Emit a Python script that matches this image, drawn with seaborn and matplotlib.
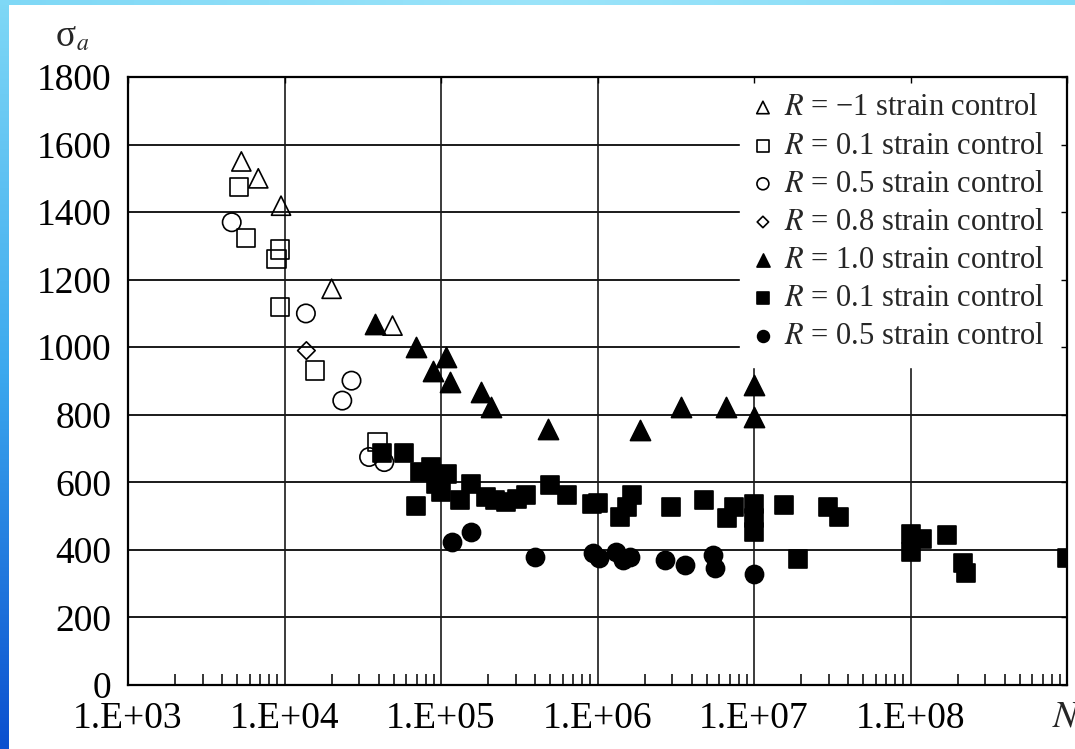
import numpy as np
import pandas as pd
import matplotlib
matplotlib.use("Agg")
import matplotlib.pyplot as plt
from matplotlib.colors import LinearSegmentedColormap
from matplotlib.ticker import FixedLocator, FixedFormatter, LogLocator, NullFormatter
import seaborn as sns

# ---------------- data ----------------
tri_open_N = [5.3e3, 6.8e3, 9.5e3, 2.0e4, 4.9e4]
tri_open_S = [1550, 1500, 1419, 1173, 1064]

sq_open_N = [5.1e3, 5.7e3, 9.4e3, 8.9e3, 9.4e3, 1.57e4, 3.93e4]
sq_open_S = [1475, 1324, 1289, 1262, 1120, 931, 719]

circ_open_N = [4.6e3, 1.37e4, 2.68e4, 2.34e4, 3.47e4, 4.34e4]
circ_open_S = [1370, 1100, 901, 842, 675, 660]

dia_open_N = [1.38e4]
dia_open_S = [990]

tri_fill_N = [3.8e4, 6.9e4, 8.9e4, 1.08e5, 1.14e5, 1.81e5, 2.1e5, 4.8e5,
              1.87e6, 3.4e6, 6.6e6, 1e7, 1e7]
tri_fill_S = [1069, 1000, 931, 970, 897, 867, 823, 759, 754, 823, 823, 887, 793]

sq_fill_N = [4.2e4, 5.8e4, 6.9e4, 7.3e4, 8.6e4, 9.3e4, 1.0e5, 1.1e5, 1.32e5,
             1.55e5, 1.95e5, 2.2e5, 2.6e5, 3.05e5, 3.5e5, 5.0e5, 6.4e5, 9.2e5,
             1.0e6, 1.39e6, 1.54e6, 1.67e6, 2.95e6, 4.8e6, 6.7e6, 7.5e6, 1e7,
             1e7, 1e7, 1.55e7, 1.9e7, 2.95e7, 3.5e7, 1e8, 1e8, 1.19e8, 1.7e8,
             2.17e8, 2.25e8, 1e9]
sq_fill_S = [688, 688, 529, 630, 645, 596, 571, 626, 547, 596, 557, 547, 542,
             552, 562, 593, 562, 535, 540, 497, 527, 562, 527, 549, 493, 527,
             537, 493, 453, 532, 374, 527, 498, 448, 394, 433, 443, 360, 333, 375]

circ_fill_N = [1.18e5, 1.55e5, 4.0e5, 9.4e5, 1.02e6, 1.31e6, 1.45e6, 1.62e6,
               2.7e6, 3.6e6, 5.5e6, 5.6e6, 1e7]
circ_fill_S = [424, 453, 379, 391, 377, 394, 371, 379, 369, 355, 384, 345, 330]

series_labels = [
    "$R$ = \u22121 strain control",
    "$R$ = 0.1 strain control",
    "$R$ = 0.5 strain control",
    "$R$ = 0.8 strain control",
    "$R$ = 1.0 strain control",
    "$R$ = 0.1 strain control",
    "$R$ = 0.5 strain control",
]

x_tick_values = [1e3, 1e4, 1e5, 1e6, 1e7, 1e8, 1e9]
x_tick_labels = ["1.E+03", "1.E+04", "1.E+05", "1.E+06", "1.E+07", "1.E+08", ""]
y_tick_values = list(range(0, 1801, 200))

# ---------------- style ----------------
sns.set_theme(style="white")
plt.rcParams["font.family"] = ["Liberation Serif", "DejaVu Serif"]
plt.rcParams["mathtext.fontset"] = "stix"

W, H = 1075, 749
fig = plt.figure(figsize=(W / 100, H / 100), dpi=100, facecolor="white")

# decorative blue border (left and top)
grad = np.linspace(0, 1, 256).reshape(-1, 1)
cm_left = LinearSegmentedColormap.from_list("l", ["#7fd8f6", "#3ba8ee", "#0b4fcf"])
axl = fig.add_axes([0, 0, 9 / W, 1])
axl.imshow(grad, aspect="auto", cmap=cm_left, extent=[0, 1, 0, 1], origin="upper")
axl.axis("off")
cm_top = LinearSegmentedColormap.from_list("t", ["#7fd8f6", "#9be4fa", "#86dcf7"])
axt = fig.add_axes([0, 1 - 5 / H, 1, 5 / H])
axt.imshow(grad.T, aspect="auto", cmap=cm_top, extent=[0, 1, 0, 1])
axt.axis("off")

ax = fig.add_axes([128 / W, 1 - 685 / H, (1067 - 128) / W, (685 - 77) / H])
ax.set_facecolor("white")

series = [
    (tri_open_N, tri_open_S, "^", False, 190),
    (sq_open_N, sq_open_S, "s", False, 175),
    (circ_open_N, circ_open_S, "o", False, 175),
    (dia_open_N, dia_open_S, "D", False, 80),
    (tri_fill_N, tri_fill_S, "^", True, 210),
    (sq_fill_N, sq_fill_S, "s", True, 185),
    (circ_fill_N, circ_fill_S, "o", True, 170),
]

handles = []
for (Nv, Sv, mk, filled, size), lab in zip(series, series_labels):
    df = pd.DataFrame({"N": Nv, "S": Sv})
    kws = dict(marker=mk, s=size, linewidth=1.2, edgecolor="black", zorder=3,
               color="black")
    sns.scatterplot(data=df, x="N", y="S", ax=ax, legend=False, **kws)
    h = ax.collections[-1]
    if not filled:
        h.set_facecolor("none")
        h.set_edgecolor("black")
    handles.append(h)

ax.set_xscale("log")
ax.set_xlim(1e3, 1e9)
ax.set_ylim(0, 1800)

# manual grid (so the legend can cover it while ticks stay visible)
for v in y_tick_values[1:-1]:
    ax.axhline(v, color="#1a1a1a", lw=1.4, zorder=1)
for v in x_tick_values[1:-1]:
    ax.axvline(v, color="#1a1a1a", lw=1.2, zorder=1)

ax.xaxis.set_major_locator(FixedLocator(x_tick_values))
ax.xaxis.set_major_formatter(FixedFormatter(x_tick_labels))
ax.xaxis.set_minor_locator(LogLocator(base=10, subs=np.arange(2, 10)))
ax.xaxis.set_minor_formatter(NullFormatter())
ax.yaxis.set_major_locator(FixedLocator(y_tick_values))
ax.set_yticklabels([str(v) for v in y_tick_values])

ax.tick_params(axis="both", which="major", direction="in", length=4, width=1,
               top=True, right=True, labelsize=27, color="black", labelcolor="black")
ax.tick_params(axis="x", which="major", pad=12)
ax.tick_params(axis="y", which="major", pad=12)
ax.tick_params(axis="x", which="minor", direction="in", length=8, width=1.1,
               bottom=True, top=False, color="black")
ax.set_axisbelow(False)
for sp in ax.spines.values():
    sp.set_visible(True)
    sp.set_color("black")
    sp.set_linewidth(1.6)
ax.set_xlabel("")
ax.set_ylabel("")

x0 = (740 - 128) / (1067 - 128)
leg = ax.legend(handles, series_labels, loc="upper left",
                bbox_to_anchor=(x0, 0.0, 1 - x0, 0.998), mode="expand",
                borderaxespad=0, frameon=True, fancybox=False, framealpha=1,
                edgecolor="white", facecolor="white", fontsize=22,
                markerscale=0.65, handlelength=0.5, handletextpad=0.45,
                labelspacing=0.3, borderpad=0.5)
leg.set_zorder(2)

fig.text(66 / W, 1 - 37 / H, "σ", fontsize=27, ha="center", va="center")
fig.text(83 / W, 1 - 45 / H, "$a$", fontsize=17, ha="center", va="center")
fig.text(1052 / W, 1 - 717 / H, "$N$", fontsize=27, ha="left", va="center")

fig.savefig("out.png", dpi=100, facecolor="white")
